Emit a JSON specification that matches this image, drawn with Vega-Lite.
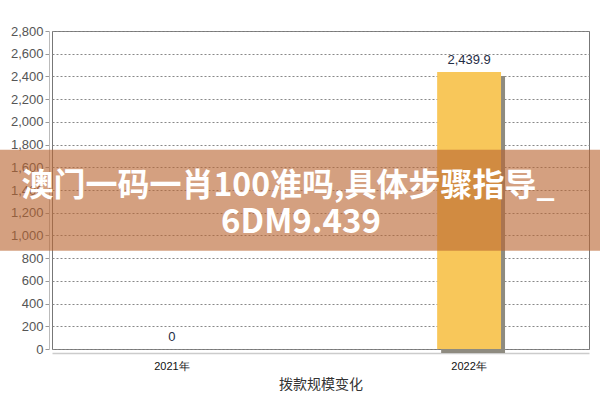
{
  "$schema": "https://vega.github.io/schema/vega-lite/v6.json",
  "width": 537,
  "height": 318,
  "autosize": {"type": "none"},
  "padding": {"left": 52, "top": 31, "right": 11, "bottom": 51},
  "background": "white",
  "config": {
    "view": {"stroke": "#777777", "strokeWidth": 1},
    "font": "Liberation Sans"
  },
  "datasets": {
    "bars": [
      {"year": "2021年", "value": 0, "label": "0"},
      {"year": "2022年", "value": 2439.9, "label": "2,439.9"}
    ],
    "banner": [
      {"top": 1755, "bottom": 866, "line1": "澳门一码一肖100准吗,具体步骤指导_", "line2": "6DM9.439", "y1": 1438, "y2": 1112}
    ]
  },
  "data": {"name": "bars"},
  "encoding": {
    "x": {
      "field": "year", "type": "nominal", "sort": null,
      "scale": {"paddingInner": 0.785, "paddingOuter": 0.296},
      "axis": {
        "title": "拨款规模变化", "titleFont": "Noto Sans CJK SC", "titleFontSize": 14,
        "titleFontWeight": "normal", "titleColor": "#333333", "titlePadding": 6,
        "labelAngle": 0, "labelFont": "Liberation Sans", "labelFontSize": 11, "labelColor": "#111111",
        "labelPadding": 7, "ticks": false, "offset": 4,
        "domainColor": "#cccccc", "domainWidth": 1.5
      }
    },
    "y": {
      "field": "value", "type": "quantitative",
      "scale": {"domain": [0, 2800], "nice": false},
      "axis": {
        "title": null, "values": [0,200,400,600,800,1000,1200,1400,1600,1800,2000,2200,2400,2600,2800],
        "format": ",d", "labelFontSize": 13, "labelColor": "#555555", "labelPadding": 2,
        "labelOverlap": false, "labelBound": false,
        "offset": 3, "domainColor": "#bbbbbb", "tickColor": "#999999", "tickSize": 4,
        "grid": true, "gridColor": "#888888", "gridDash": [2, 2], "gridWidth": 1
      }
    }
  },
  "layer": [
    {
      "mark": {"type": "bar", "color": "#8e8b80", "xOffset": 4, "yOffset": 4}
    },
    {
      "mark": {"type": "bar", "color": "#f8c75a"}
    },
    {
      "mark": {"type": "text", "baseline": "bottom", "dy": -5, "fontSize": 13, "color": "#1f2d45", "font": "Liberation Sans"},
      "encoding": {
        "text": {"field": "label"}
      }
    },
    {
      "data": {"name": "banner"},
      "mark": {"type": "rect", "color": "rgb(185,102,50)", "opacity": 0.62, "clip": false},
      "encoding": {
        "x": {"value": -52},
        "x2": {"value": 548},
        "y": {"field": "top", "type": "quantitative"},
        "y2": {"field": "bottom"}
      }
    },
    {
      "data": {"name": "banner"},
      "mark": {"type": "text", "color": "white", "font": "Noto Sans CJK SC", "fontWeight": "bold", "fontSize": 32, "baseline": "middle", "align": "center"},
      "encoding": {
        "x": {"value": 236},
        "y": {"field": "y1", "type": "quantitative"},
        "text": {"field": "line1"}
      }
    },
    {
      "data": {"name": "banner"},
      "mark": {"type": "text", "color": "white", "font": "Noto Sans CJK SC", "fontWeight": "bold", "fontSize": 33, "baseline": "middle", "align": "center"},
      "encoding": {
        "x": {"value": 249},
        "y": {"field": "y2", "type": "quantitative"},
        "text": {"field": "line2"}
      }
    }
  ]
}
